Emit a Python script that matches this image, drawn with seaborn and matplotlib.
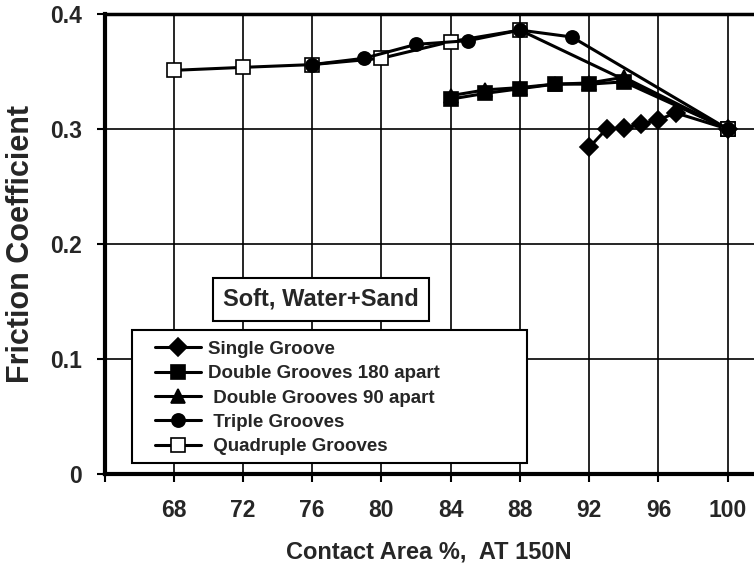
import matplotlib
matplotlib.use("Agg")
import matplotlib.pyplot as plt
from matplotlib.patches import Rectangle
import seaborn as sns

# Donnees (surface de contact %, coefficient de frottement)
single_x = [92, 93, 94, 95, 96, 97, 100]
single_y = [0.284, 0.300, 0.301, 0.304, 0.308, 0.314, 0.300]

double180_x = [84, 86, 88, 90, 92, 94, 100]
double180_y = [0.326, 0.331, 0.335, 0.339, 0.339, 0.341, 0.300]

double90_x = [84, 86, 88, 90, 92, 94, 100]
double90_y = [0.329, 0.334, 0.336, 0.339, 0.340, 0.345, 0.300]

triple_x = [76, 79, 82, 85, 88, 91, 100]
triple_y = [0.356, 0.3615, 0.3736, 0.3768, 0.386, 0.380, 0.300]

quad_x = [68, 72, 76, 80, 84, 88, 100]
quad_y = [0.351, 0.3536, 0.356, 0.3615, 0.376, 0.386, 0.300]

x_ticks = [64, 68, 72, 76, 80, 84, 88, 92, 96, 100]
x_tick_labels = ['', '68', '72', '76', '80', '84', '88', '92', '96', '100']
y_ticks = [0, 0.1, 0.2, 0.3, 0.4]
y_tick_labels = ['0', '0.1', '0.2', '0.3', '0.4']

sns.set_style('white')
plt.rcParams['font.family'] = ['Liberation Sans', 'DejaVu Sans']
plt.rcParams['font.weight'] = 'bold'

fig = plt.figure(figsize=(7.54, 5.69), dpi=100)
ax = fig.add_axes([0.1386, 0.167, 0.8614, 0.8084])

# Grille noire derriere les courbes
ax.set_axisbelow(True)
ax.grid(True, color='black', linewidth=1.2)

series = [
    (single_x, single_y, 'Single Groove', 'D', 'black', 9.5, 3),
    (double180_x, double180_y, 'Double Grooves 180 apart', 's', 'black', 10, 3),
    (double90_x, double90_y, ' Double Grooves 90 apart', '^', 'black', 10, 4),
    (triple_x, triple_y, ' Triple Grooves', 'o', 'black', 9.5, 6),
    (quad_x, quad_y, ' Quadruple Grooves', 's', 'white', 10, 5),
]
for xs, ys, label, marker, face, size, z in series:
    sns.lineplot(x=xs, y=ys, ax=ax, label=label, color='black', linewidth=2.2,
                 marker=marker, markersize=size, markerfacecolor=face,
                 markeredgecolor='black', markeredgewidth=1.2, zorder=z)

ax.set_xlim(64, 101.52)
ax.set_ylim(0, 0.4)
ax.set_xticks(x_ticks)
ax.set_xticklabels(x_tick_labels)
ax.set_yticks(y_ticks)
ax.set_yticklabels(y_tick_labels)
ax.tick_params(axis='both', direction='out', length=6, width=1.5, color='black',
               labelsize=16.5, bottom=True, left=True)
ax.tick_params(axis='x', pad=12)
ax.tick_params(axis='y', pad=10)

for side in ['left', 'bottom', 'top']:
    ax.spines[side].set_color('black')
ax.spines['left'].set_linewidth(3)
ax.spines['bottom'].set_linewidth(3)
ax.spines['top'].set_linewidth(2.5)
ax.spines['right'].set_visible(False)

ax.set_xlabel('Contact Area %,  AT 150N', fontsize=17, fontweight='bold')
ax.set_ylabel('Friction Coefficient', fontsize=22, fontweight='bold')
ax.xaxis.set_label_coords(0.5, -0.145)
ax.yaxis.set_label_coords(-0.105, 0.5)

# Encadre de condition d'essai
ax.text(0.333, 0.38, 'Soft, Water+Sand', transform=ax.transAxes, fontsize=17,
        fontweight='bold', ha='center', va='center', zorder=10,
        bbox=dict(boxstyle='square,pad=0.42', facecolor='white', edgecolor='black', linewidth=1.5))

# Cadre de legende dessine a part pour garder la marge gauche du modele
ax.add_patch(Rectangle((0.0423, 0.0239), 0.608, 0.289, transform=ax.transAxes,
                       facecolor='white', edgecolor='black', linewidth=1.5, zorder=9))
leg = ax.legend(loc='upper left', bbox_to_anchor=(0.0778, 0.29),
                borderaxespad=0, borderpad=0, fontsize=13.5, frameon=False,
                handlelength=2.45, handletextpad=0.4, labelspacing=0.39)
leg.set_zorder(10)

fig.savefig('out.png', dpi=100)
